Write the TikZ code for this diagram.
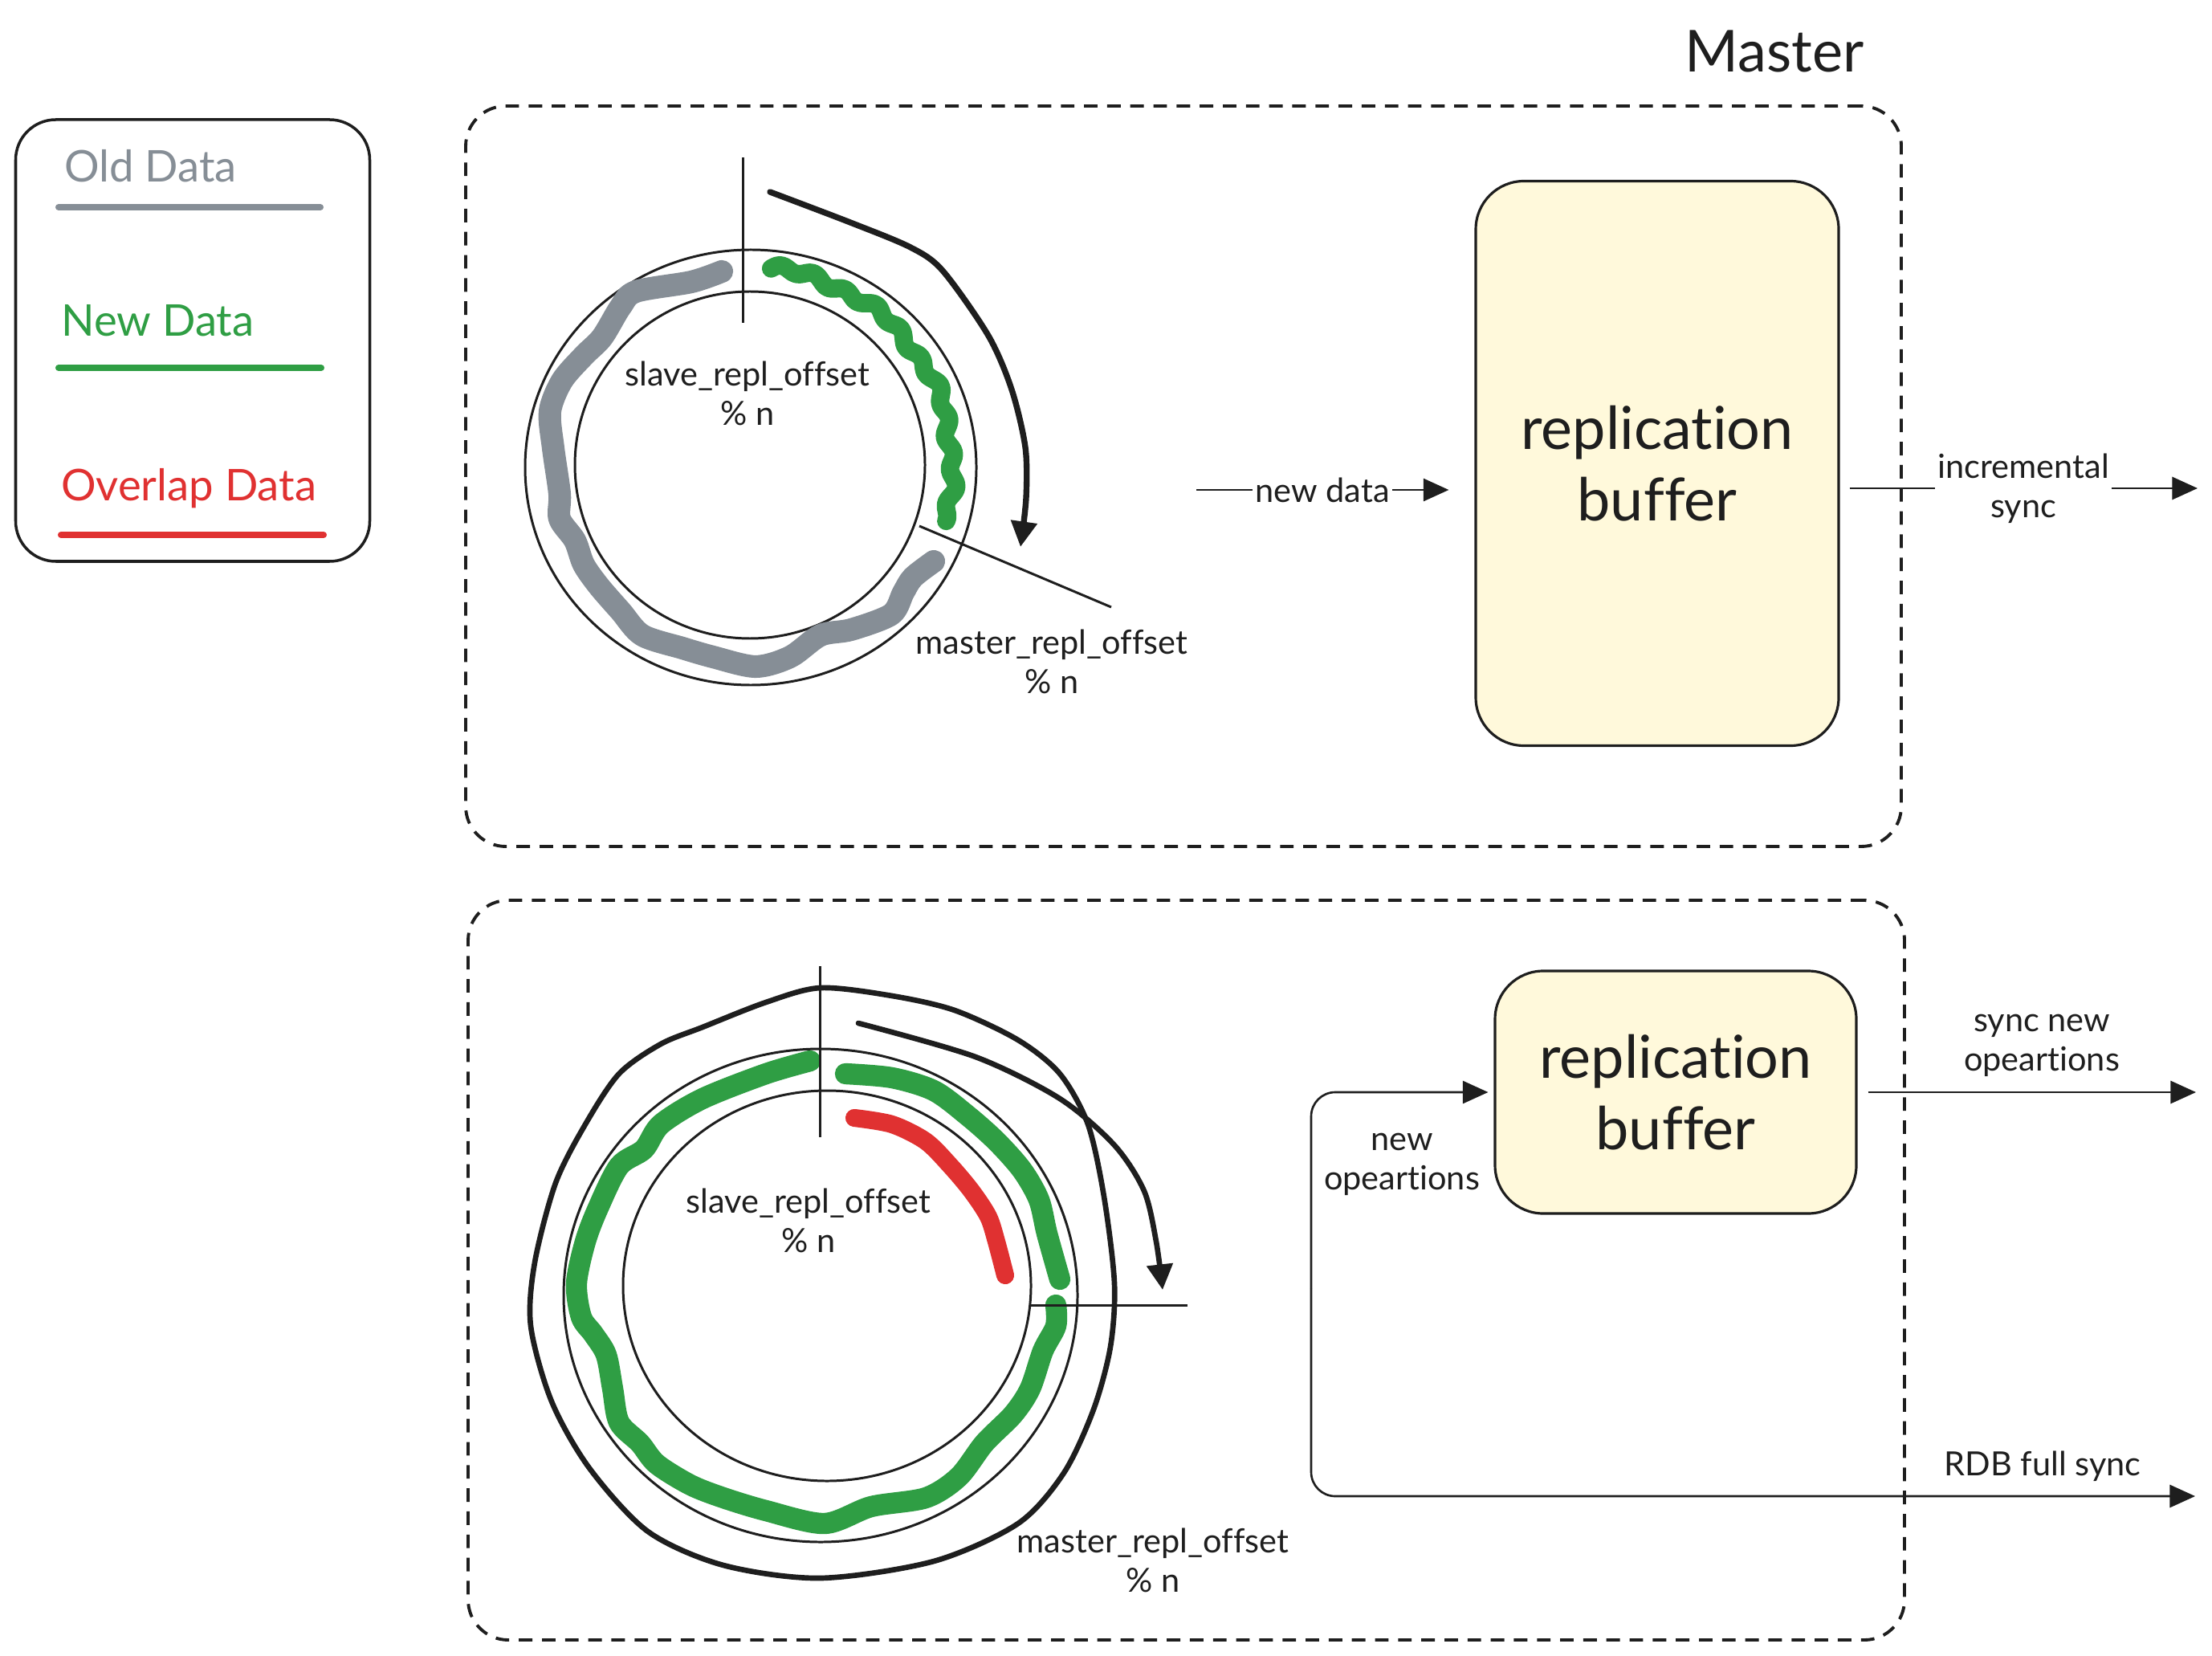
\documentclass[tikz,border=0pt]{standalone}
\usepackage{fontspec}
\setmainfont{Lato}[Ligatures=NoCommon]
\usetikzlibrary{arrows.meta,positioning}
\usepackage{xcolor}

\definecolor{ink}{HTML}{1E1E1E}
\definecolor{old_grey}{HTML}{868E96}
\definecolor{new_green}{HTML}{2F9E44}
\definecolor{overlap_red}{HTML}{E03131}
\definecolor{buffer_yellow}{HTML}{FFF9DB}

\begin{document}
\begin{tikzpicture}[
    >={Triangle[length=9pt,width=8pt]},
    every node/.style={
        text=ink,
        inner sep=1pt,
        font=\fontsize{11.8}{14}\selectfont
    },
    master_frame/.style={draw=ink, line width=1.1pt, dash pattern=on 4.8pt off 3.4pt, rounded corners=5mm},
    buffer_box/.style={draw=ink, line width=0.9pt, fill=buffer_yellow, rounded corners=6mm, align=center, font=\fontsize{21}{25.4}\selectfont},
    ring_line/.style={draw=ink, line width=0.85pt},
    data_stroke/.style={line width=7.5pt, line cap=round, line join=round},
    flow/.style={draw=ink, line width=0.75pt, ->},
    sweep_arrow/.style={draw=ink, line width=2.1pt, line cap=round, -{Triangle[length=9pt,width=9pt]}},
    offset_txt/.style={align=center},
    legend_txt/.style={anchor=base west, font=\fontsize{15.5}{18}\selectfont}
]
    \useasboundingbox (0, 0) rectangle (27.55, -20.62);

    % legend
    \node (legend_box) [draw=ink, line width=1pt, rounded corners=5mm, minimum width=4.41cm, minimum height=5.50cm, shift={(2.40, -4.24)}]
    {};
    \node (old_data_txt) [legend_txt, text=old_grey, shift={(0.76, -2.27)}]
    {
        Old Data
    };
    \node (new_data_txt) [legend_txt, text=new_green, shift={(0.72, -4.19)}]
    {
        New Data
    };
    \node (overlap_data_txt) [legend_txt, text=overlap_red, shift={(0.72, -6.24)}]
    {
        Overlap Data
    };
    \draw[old_grey, line width=2.3pt, line cap=round] (0.73, -2.58) -- (3.99, -2.58);
    \draw[new_green, line width=2.3pt, line cap=round] (0.73, -4.58) -- (4.00, -4.58);
    \draw[overlap_red, line width=2.3pt, line cap=round] (0.76, -6.66) -- (4.03, -6.66);



    \node (master_txt) [font=\fontsize{20.5}{24}\selectfont, shift={(22.10, -0.64)}]
    {
        Master
    };
    \node (top_frame) [master_frame, minimum width=17.88cm, minimum height=9.22cm, shift={(14.74, -5.93)}]
    {};
    \node (bottom_frame) [master_frame, minimum width=17.89cm, minimum height=9.21cm, shift={(14.775, -15.815)}]
    {};



    % top ring
    \draw[ring_line] (9.35, -5.82) ellipse [x radius=2.81, y radius=2.71];
    \draw[ring_line] (9.34, -5.79) ellipse [x radius=2.18, y radius=2.16];
    \draw[data_stroke, line width=8pt, old_grey] plot[smooth] coordinates {(8.99,-3.38) (8.61,-3.51) (7.92,-3.63) (7.73,-3.82) (7.50,-4.20) (7.27,-4.43) (7.00,-4.74) (6.85,-5.12) (6.89,-5.58) (6.97,-6.15) (6.97,-6.46) (7.16,-6.73) (7.27,-7.03) (7.46,-7.30) (7.73,-7.61) (8.00,-7.91) (8.50,-8.07) (8.88,-8.18) (9.41,-8.30) (9.84,-8.18) (10.22,-7.91) (10.60,-7.84) (11.10,-7.65) (11.25,-7.38) (11.37,-7.19) (11.63,-6.99)};
    \draw[data_stroke, line width=6.5pt, new_green] plot[smooth, domain=84:-16, samples=110] ({9.34+(2.52+0.04*sin(37*(84-\x))+0.025*sin(13*(84-\x)))*cos(\x)}, {-5.80+(2.47+0.04*sin(37*(84-\x))+0.025*sin(13*(84-\x)))*sin(\x)});
    \draw[ring_line] (9.25, -1.96) -- (9.25, -4.02);
    \draw[ring_line] (11.45, -6.55) -- (13.84, -7.56);
    \draw[sweep_arrow] plot[smooth] coordinates {(9.59,-2.39) (10.59,-2.77) (11.34,-3.08) (11.74,-3.37) (12.31,-4.18) (12.60,-4.85) (12.77,-5.57) (12.78,-6.20) (12.71,-6.81)};

    \node (top_slave_txt) [offset_txt, shift={(9.31, -4.90)}]
    {
        slave\_repl\_offset\\\% n
    };
    \node (top_master_txt) [offset_txt, shift={(13.10, -8.24)}]
    {
        master\_repl\_offset\\\% n
    };



    \node (buffer_top) [buffer_box, minimum width=4.52cm, minimum height=7.03cm, shift={(20.64, -5.77)}]
    {
        replication\\buffer
    };
    \coordinate (new_data_start) at (14.90, -6.10);
    \coordinate (incremental_end) at (27.37, -6.08);



    % bottom ring
    \draw[ring_line] (10.22, -16.13) ellipse [x radius=3.20, y radius=3.07];
    \draw[ring_line] (10.30, -16.01) ellipse [x radius=2.54, y radius=2.43];
    \draw[ink, line width=1.9pt] plot[smooth cycle] coordinates {(10.22,-12.30) (11.11,-12.40) (11.89,-12.58) (12.68,-12.95) (13.20,-13.37) (13.55,-14.00) (13.75,-14.90) (13.88,-15.98) (13.83,-16.77) (13.62,-17.55) (13.25,-18.34) (12.68,-18.97) (11.63,-19.44) (10.22,-19.65) (9.01,-19.49) (8.07,-19.07) (7.34,-18.28) (6.87,-17.45) (6.61,-16.51) (6.66,-15.72) (6.92,-14.73) (7.29,-14.00) (7.71,-13.37) (8.23,-13.00) (8.75,-12.79) (9.54,-12.48)};
    \draw[data_stroke, new_green] plot[smooth] coordinates {(10.09,-13.21) (9.54,-13.37) (8.75,-13.68) (8.23,-14.00) (8.02,-14.31) (7.71,-14.52) (7.45,-15.04) (7.29,-15.46) (7.18,-15.98) (7.24,-16.40) (7.39,-16.61) (7.55,-16.87) (7.63,-17.29) (7.71,-17.71) (7.97,-17.97) (8.18,-18.23) (8.60,-18.49) (9.01,-18.65) (9.54,-18.81) (10.27,-18.97) (10.85,-18.76) (11.53,-18.65) (11.94,-18.39) (12.26,-17.97) (12.62,-17.61) (12.83,-17.29) (12.99,-16.82) (13.15,-16.51) (13.15,-16.25)};
    \draw[data_stroke, new_green] plot[smooth] coordinates {(10.53,-13.37) (11.11,-13.42) (11.63,-13.58) (12.05,-13.89) (12.41,-14.21) (12.73,-14.57) (12.94,-14.94) (13.04,-15.36) (13.20,-15.93)};
    \draw[data_stroke, line width=6.3pt, overlap_red] plot[smooth] coordinates {(10.64,-13.92) (11.11,-14.00) (11.53,-14.21) (11.84,-14.52) (12.10,-14.83) (12.31,-15.15) (12.41,-15.46) (12.52,-15.88)};
    \draw[ring_line] (10.21, -12.03) -- (10.21, -14.16);
    \draw[ring_line] (12.84, -16.25) -- (14.79, -16.25);
    \draw[sweep_arrow, line width=1.9pt] plot[smooth] coordinates {(10.69,-12.74) (12.15,-13.16) (13.20,-13.68) (13.88,-14.26) (14.25,-14.83) (14.40,-15.46) (14.48,-16.06)};

    \node (bottom_slave_txt) [offset_txt, shift={(10.07, -15.20)}]
    {
        slave\_repl\_offset\\\% n
    };
    \node (bottom_master_txt) [offset_txt, shift={(14.36, -19.43)}]
    {
        master\_repl\_offset\\\% n
    };



    \node (buffer_bottom) [buffer_box, minimum width=4.50cm, minimum height=3.02cm, shift={(20.87, -13.60)}]
    {
        replication\\buffer
    };
    \coordinate (fork) at (16.33, -16.04);
    \coordinate (sync_end) at (27.35, -13.60);
    \coordinate (rdb_end) at (27.34, -18.63);

    \node (new_operations_txt) [offset_txt, shift={(17.46, -14.50)}]
    {
        new\\opeartions
    };
    \node (sync_new_txt) [offset_txt, shift={(25.43, -13.02)}]
    {
        sync new\\opeartions
    };
    \node (rdb_txt) [shift={(25.44, -18.26)}]
    {
        RDB full sync
    };



    \draw[flow] (new_data_start) to node[fill=white] {new data} ([xshift=-3.2mm]buffer_top.west |- new_data_start);
    \draw[flow] ([xshift=1.2mm]buffer_top.east |- incremental_end) to node[fill=white, offset_txt] {incremental\\sync} (incremental_end);
    \draw[flow, rounded corners=3mm, shorten >=0.7mm] (fork) |- (buffer_bottom.west);
    \draw[flow, rounded corners=3mm] (fork) |- (rdb_end);
    \draw[flow] ([xshift=1.3mm]buffer_bottom.east) to (sync_end);


\end{tikzpicture}
\end{document}
